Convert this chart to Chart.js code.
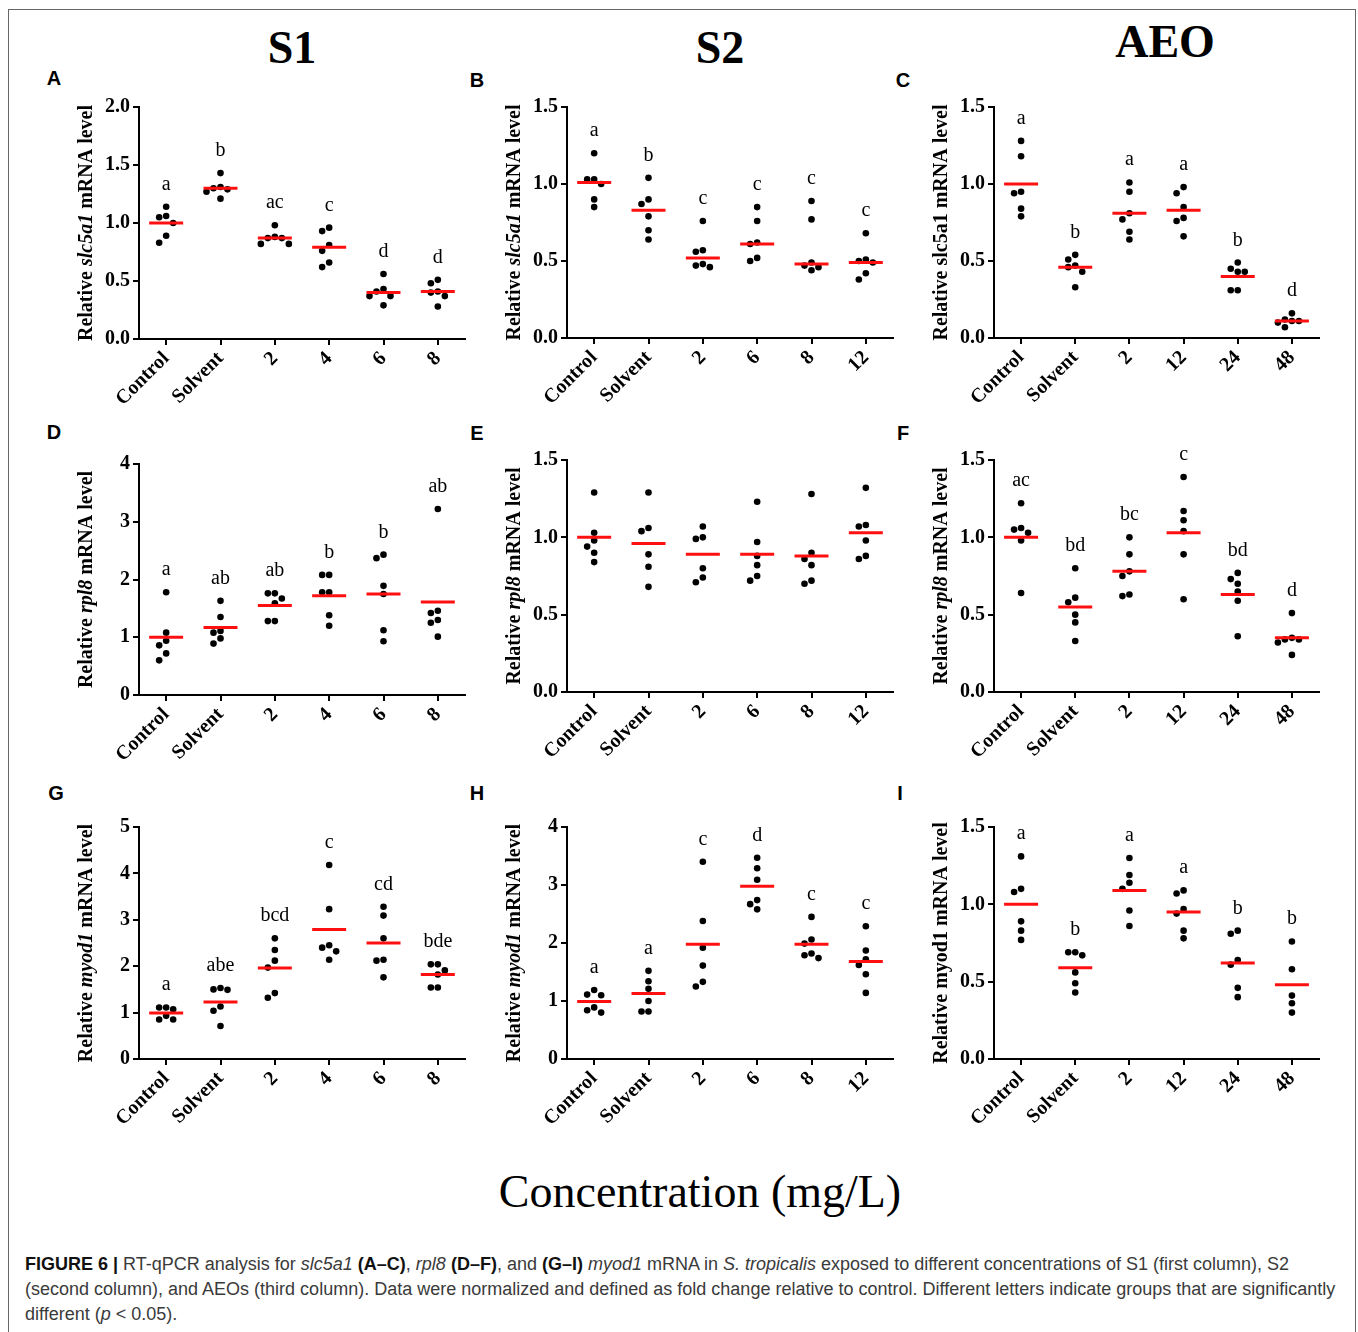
<!DOCTYPE html>
<html>
<head>
  <meta charset="UTF-8">
  <title>Figure 6 - RT-qPCR</title>
  <script src="https://cdn.jsdelivr.net/npm/chart.js@4.4.1/dist/chart.umd.min.js"></script>
  <style>
    body {
      margin: 0;
      background: #fff;
      width: 1358px;
      height: 1332px;
      overflow: hidden;
    }
    #fig {
      position: relative;
      width: 1358px;
      height: 1332px;
    }
    #frame {
      position: absolute;
      left: 8px;
      top: 9px;
      width: 1346px;
      height: 1340px;
      border: 1px solid #666;
    }
    .txt {
      position: absolute;
      transform: translate(-50%, -50%);
      white-space: nowrap;
      line-height: 1;
    }
    .head {
      font-family: 'Liberation Serif', 'Times New Roman', serif;
      font-weight: bold;
      font-size: 46px;
    }
    .plabel {
      font-family: 'Liberation Sans', Arial, sans-serif;
      font-weight: bold;
      font-size: 20px;
    }
    #xtitle {
      font-family: 'Liberation Serif', 'Times New Roman', serif;
      font-size: 46px;
    }
    #caption {
      position: absolute;
      left: 25px;
      top: 1252px;
      font-family: 'Liberation Sans', Arial, sans-serif;
      font-size: 18px;
      line-height: 25px;
      color: #3a3a3a;
      white-space: nowrap;
    }
    #caption b { color: #111; }
    .panel { position: absolute; }
  </style>
</head>
<body>
<div id="fig">
  <div id="frame"></div>

  <div class="txt head" style="left:292px;top:48px">S1</div>
  <div class="txt head" style="left:720px;top:48px">S2</div>
  <div class="txt head" style="left:1165px;top:42px">AEO</div>

  <div class="txt plabel" style="left:54px;top:78px">A</div>
  <div class="txt plabel" style="left:477px;top:80px">B</div>
  <div class="txt plabel" style="left:903px;top:80px">C</div>
  <div class="txt plabel" style="left:54px;top:432px">D</div>
  <div class="txt plabel" style="left:477px;top:433px">E</div>
  <div class="txt plabel" style="left:903px;top:433px">F</div>
  <div class="txt plabel" style="left:56px;top:793px">G</div>
  <div class="txt plabel" style="left:477px;top:793px">H</div>
  <div class="txt plabel" style="left:900px;top:793px">I</div>

  <div id="xtitle" class="txt" style="left:700px;top:1192px">Concentration (mg/L)</div>

  <div id="caption">
    <b>FIGURE 6 |</b> RT-qPCR analysis for <i>slc5a1</i> <b>(A–C)</b>, <i>rpl8</i> <b>(D–F)</b>, and <b>(G–I)</b> <i>myod1</i> mRNA in <i>S. tropicalis</i> exposed to different concentrations of S1 (first column), S2<br>
    (second column), and AEOs (third column). Data were normalized and defined as fold change relative to control. Different letters indicate groups that are significantly<br>
    different (<i>p</i> &lt; 0.05).
  </div>
</div>

<script>
  // categories (concentration, mg/L)
  const catsS1 = ['Control', 'Solvent', '2', '4', '6', '8'];
  const catsS2 = ['Control', 'Solvent', '2', '6', '8', '12'];
  const catsAEO = ['Control', 'Solvent', '2', '12', '24', '48'];

  // slc5a1
  const valuesA = [
    [1.14, 1.05, 1.06, 1.00, 0.89, 0.83],
    [1.43, 1.31, 1.30, 1.27, 1.29, 1.21],
    [0.98, 0.88, 0.87, 0.87, 0.82, 0.82],
    [0.96, 0.93, 0.81, 0.76, 0.66, 0.62],
    [0.56, 0.43, 0.41, 0.37, 0.37, 0.29],
    [0.51, 0.48, 0.41, 0.40, 0.37, 0.28]
  ];
  const meansA = [1.00, 1.30, 0.87, 0.79, 0.40, 0.41];
  const lettersA = ['a', 'b', 'ac', 'c', 'd', 'd'];

  const valuesB = [
    [1.20, 1.03, 1.03, 1.00, 0.90, 0.85],
    [1.04, 0.90, 0.87, 0.79, 0.70, 0.64],
    [0.76, 0.57, 0.56, 0.48, 0.46, 0.47],
    [0.85, 0.76, 0.62, 0.61, 0.52, 0.50],
    [0.89, 0.77, 0.49, 0.47, 0.46, 0.44],
    [0.68, 0.51, 0.50, 0.49, 0.42, 0.38]
  ];
  const meansB = [1.01, 0.83, 0.52, 0.61, 0.48, 0.49];
  const lettersB = ['a', 'b', 'c', 'c', 'c', 'c'];

  const valuesC = [
    [1.28, 1.18, 0.95, 0.94, 0.84, 0.79],
    [0.54, 0.51, 0.47, 0.46, 0.43, 0.33],
    [1.01, 0.95, 0.81, 0.77, 0.69, 0.64],
    [0.98, 0.94, 0.85, 0.78, 0.76, 0.66],
    [0.49, 0.45, 0.43, 0.43, 0.31, 0.31],
    [0.16, 0.12, 0.11, 0.11, 0.10, 0.07]
  ];
  const meansC = [1.00, 0.46, 0.81, 0.83, 0.40, 0.11];
  const lettersC = ['a', 'b', 'a', 'a', 'b', 'd'];

  // rpl8
  const valuesD = [
    [1.78, 1.08, 0.94, 0.86, 0.72, 0.60],
    [1.63, 1.35, 1.11, 1.08, 0.98, 0.89],
    [1.76, 1.76, 1.67, 1.59, 1.28, 1.28],
    [2.08, 2.08, 1.78, 1.78, 1.38, 1.20],
    [2.43, 2.37, 1.89, 1.75, 1.12, 0.93],
    [3.22, 1.46, 1.42, 1.30, 1.25, 1.01]
  ];
  const meansD = [1.00, 1.17, 1.55, 1.72, 1.75, 1.61];
  const lettersD = ['a', 'ab', 'ab', 'b', 'b', 'ab'];

  const valuesE = [
    [1.29, 1.03, 0.98, 0.94, 0.90, 0.84],
    [1.29, 1.06, 1.04, 0.89, 0.81, 0.68],
    [1.07, 1.00, 0.99, 0.80, 0.74, 0.71],
    [1.23, 0.97, 0.88, 0.82, 0.75, 0.72],
    [1.28, 0.90, 0.86, 0.82, 0.72, 0.70],
    [1.32, 1.08, 1.07, 0.98, 0.88, 0.86]
  ];
  const meansE = [1.00, 0.96, 0.89, 0.89, 0.88, 1.03];
  const lettersE = ['', '', '', '', '', ''];

  const valuesF = [
    [1.22, 1.06, 1.05, 1.03, 0.98, 0.64],
    [0.80, 0.61, 0.58, 0.50, 0.45, 0.33],
    [1.00, 0.89, 0.78, 0.75, 0.63, 0.62],
    [1.39, 1.17, 1.11, 1.04, 0.89, 0.60],
    [0.77, 0.73, 0.70, 0.65, 0.59, 0.36],
    [0.51, 0.35, 0.34, 0.34, 0.32, 0.24]
  ];
  const meansF = [1.00, 0.55, 0.78, 1.03, 0.63, 0.35];
  const lettersF = ['ac', 'bd', 'bc', 'c', 'bd', 'd'];

  // myod1
  const valuesG = [
    [1.11, 1.07, 1.11, 0.93, 0.85, 0.85],
    [1.53, 1.49, 1.50, 1.13, 1.04, 0.71],
    [2.60, 2.35, 2.12, 1.97, 1.42, 1.32],
    [4.18, 3.23, 2.45, 2.40, 2.32, 2.14],
    [3.28, 3.09, 2.60, 2.14, 2.12, 1.76],
    [2.04, 2.04, 1.91, 1.82, 1.54, 1.54]
  ];
  const meansG = [0.99, 1.23, 1.96, 2.79, 2.50, 1.82];
  const lettersG = ['a', 'abe', 'bcd', 'c', 'cd', 'bde'];

  const valuesH = [
    [1.19, 1.11, 1.10, 0.89, 0.84, 0.80],
    [1.52, 1.34, 1.21, 1.00, 0.82, 0.82],
    [3.40, 2.38, 1.92, 1.61, 1.33, 1.25],
    [3.47, 3.29, 3.09, 2.74, 2.67, 2.58],
    [2.45, 2.06, 1.99, 1.82, 1.79, 1.74],
    [2.29, 1.87, 1.72, 1.62, 1.46, 1.14]
  ];
  const meansH = [0.99, 1.13, 1.98, 2.98, 1.98, 1.68];
  const lettersH = ['a', 'a', 'c', 'd', 'c', 'c'];

  const valuesI = [
    [1.31, 1.10, 1.08, 0.89, 0.83, 0.77],
    [0.69, 0.69, 0.67, 0.56, 0.49, 0.43],
    [1.30, 1.19, 1.14, 1.10, 0.96, 0.86],
    [1.09, 1.07, 0.97, 0.94, 0.83, 0.78],
    [0.83, 0.81, 0.64, 0.61, 0.46, 0.40],
    [0.76, 0.58, 0.41, 0.36, 0.30]
  ];
  const meansI = [1.00, 0.59, 1.09, 0.95, 0.62, 0.48];
  const lettersI = ['a', 'b', 'a', 'a', 'b', 'b'];

  // canvas margins around the plot area
  // (right margin >= half the mean-bar point size, Chart.js reserves that much anyway)
  const PAD_L = 100, PAD_R = 20, PAD_T = 40, PAD_B = 90;
  const SERIF = "'Liberation Serif', 'Times New Roman', serif";
  const DOT_STEP = 7;

  // plot boxes: [left, top, right, bottom] of the axes
  const panels = [
    { gene: 'slc5a1', italic: true,  yMax: 2,   step: 0.5, cats: catsS1,  vals: valuesA, means: meansA, letters: lettersA, box: [139, 107, 465, 339] },
    { gene: 'slc5a1', italic: true,  yMax: 1.5, step: 0.5, cats: catsS2,  vals: valuesB, means: meansB, letters: lettersB, box: [567, 107, 893, 338] },
    { gene: 'slc5a1', italic: false, yMax: 1.5, step: 0.5, cats: catsAEO, vals: valuesC, means: meansC, letters: lettersC, box: [994, 107, 1319, 338] },
    { gene: 'rpl8',   italic: true,  yMax: 4,   step: 1,   cats: catsS1,  vals: valuesD, means: meansD, letters: lettersD, box: [139, 464, 465, 695] },
    { gene: 'rpl8',   italic: true,  yMax: 1.5, step: 0.5, cats: catsS2,  vals: valuesE, means: meansE, letters: lettersE, box: [567, 460, 893, 692] },
    { gene: 'rpl8',   italic: true,  yMax: 1.5, step: 0.5, cats: catsAEO, vals: valuesF, means: meansF, letters: lettersF, box: [994, 460, 1319, 692] },
    { gene: 'myod1',  italic: true,  yMax: 5,   step: 1,   cats: catsS1,  vals: valuesG, means: meansG, letters: lettersG, box: [139, 827, 465, 1059] },
    { gene: 'myod1',  italic: true,  yMax: 4,   step: 1,   cats: catsS2,  vals: valuesH, means: meansH, letters: lettersH, box: [567, 827, 893, 1059] },
    { gene: 'myod1',  italic: false, yMax: 1.5, step: 0.5, cats: catsAEO, vals: valuesI, means: meansI, letters: lettersI, box: [994, 827, 1319, 1059] }
  ];

  // spread dots of one group sideways so they don't overlap (scatter dot plot)
  function swarm(values, pxY, pxX, g) {
    const placed = [];
    const out = [];
    const order = values.map((v, i) => i).sort((a, b) => values[b] - values[a]);
    order.forEach(i => {
      const py = values[i] * pxY;
      let off = 0;
      for (let k = 0; k < 8; k++) {
        const cands = k === 0 ? [0] : [-k, k];
        const ok = cands.find(c => placed.every(q => Math.hypot(q.x - c * DOT_STEP, q.y - py) >= DOT_STEP));
        if (ok !== undefined) { off = ok * DOT_STEP; break; }
      }
      placed.push({ x: off, y: py });
      out.push({ x: g + off / pxX, y: values[i] });
    });
    return out;
  }

  function makeChart(p) {
    const [l, t, r, b] = p.box;
    const wrap = document.createElement('div');
    wrap.className = 'panel';
    wrap.style.left = (l - PAD_L) + 'px';
    wrap.style.top = (t - PAD_T) + 'px';
    wrap.style.width = (r - l + PAD_L + PAD_R) + 'px';
    wrap.style.height = (b - t + PAD_T + PAD_B) + 'px';
    const cv = document.createElement('canvas');
    wrap.appendChild(cv);
    document.getElementById('fig').appendChild(wrap);

    const pxY = (b - t) / p.yMax;
    const pxX = (r - l) / p.cats.length;
    let dots = [];
    p.vals.forEach((vs, g) => { dots = dots.concat(swarm(vs, pxY, pxX, g)); });

    const tickFont = { family: SERIF, size: 20, weight: 'bold' };

    const annot = {
      id: 'annot',
      afterDraw(chart) {
        const ctx = chart.ctx;
        const ca = chart.chartArea;
        const xs = chart.scales.x, ys = chart.scales.y;
        // significance letters
        ctx.save();
        ctx.fillStyle = '#000';
        ctx.font = '20px ' + SERIF;
        ctx.textAlign = 'center';
        ctx.textBaseline = 'alphabetic';
        p.letters.forEach((s, g) => {
          if (!s) return;
          const top = Math.max.apply(null, p.vals[g]);
          ctx.fillText(s, xs.getPixelForValue(g), ys.getPixelForValue(top) - 17);
        });
        ctx.restore();
        // y axis title with italic gene name
        const parts = [
          { s: 'Relative ', f: 'bold 20px ' + SERIF },
          { s: p.gene, f: (p.italic ? 'italic ' : '') + 'bold 20px ' + SERIF },
          { s: ' mRNA level', f: 'bold 20px ' + SERIF }
        ];
        ctx.save();
        ctx.translate(ca.left - 52, (ca.top + ca.bottom) / 2);
        ctx.rotate(-Math.PI / 2);
        ctx.fillStyle = '#000';
        ctx.textBaseline = 'middle';
        ctx.textAlign = 'left';
        let total = 0;
        parts.forEach(q => { ctx.font = q.f; q.w = ctx.measureText(q.s).width; total += q.w; });
        let x = -total / 2;
        parts.forEach(q => { ctx.font = q.f; ctx.fillText(q.s, x, 0); x += q.w; });
        ctx.restore();
      }
    };

    new Chart(cv, {
      type: 'scatter',
      data: {
        datasets: [
          {
            data: p.means.map((m, g) => ({ x: g, y: m })),
            pointStyle: 'line',
            pointRadius: 17,
            pointHoverRadius: 17,
            borderColor: '#ff1010',
            borderWidth: 3,
            order: 0
          },
          {
            data: dots,
            pointRadius: 3.3,
            pointHoverRadius: 3.3,
            backgroundColor: '#000',
            borderWidth: 0,
            order: 1
          }
        ]
      },
      options: {
        responsive: true,
        maintainAspectRatio: false,
        animation: false,
        events: [],
        layout: { padding: { top: PAD_T, right: PAD_R, left: 0, bottom: 0 } },
        plugins: { legend: { display: false }, tooltip: { enabled: false } },
        scales: {
          x: {
            type: 'linear',
            min: -0.5,
            max: p.cats.length - 0.5,
            afterBuildTicks: s => { s.ticks = p.cats.map((c, i) => ({ value: i })); },
            afterFit: s => { s.height = PAD_B; s.paddingLeft = 0; s.paddingRight = 0; },
            ticks: {
              callback: v => p.cats[v],
              minRotation: 45,
              maxRotation: 45,
              autoSkip: false,
              font: tickFont,
              color: '#000',
              padding: 2
            },
            grid: { drawOnChartArea: false, tickLength: 6, color: '#000', lineWidth: 2 },
            border: { color: '#000', width: 2 }
          },
          y: {
            min: 0,
            max: p.yMax,
            afterFit: s => { s.width = PAD_L; s.paddingTop = 0; s.paddingBottom = 0; },
            ticks: {
              stepSize: p.step,
              callback: v => p.step < 1 ? v.toFixed(1) : String(v),
              font: tickFont,
              color: '#000',
              padding: 3
            },
            grid: { drawOnChartArea: false, tickLength: 6, color: '#000', lineWidth: 2 },
            border: { color: '#000', width: 2 }
          }
        }
      },
      plugins: [annot]
    });
  }

  panels.forEach(makeChart);
</script>
</body>
</html>
